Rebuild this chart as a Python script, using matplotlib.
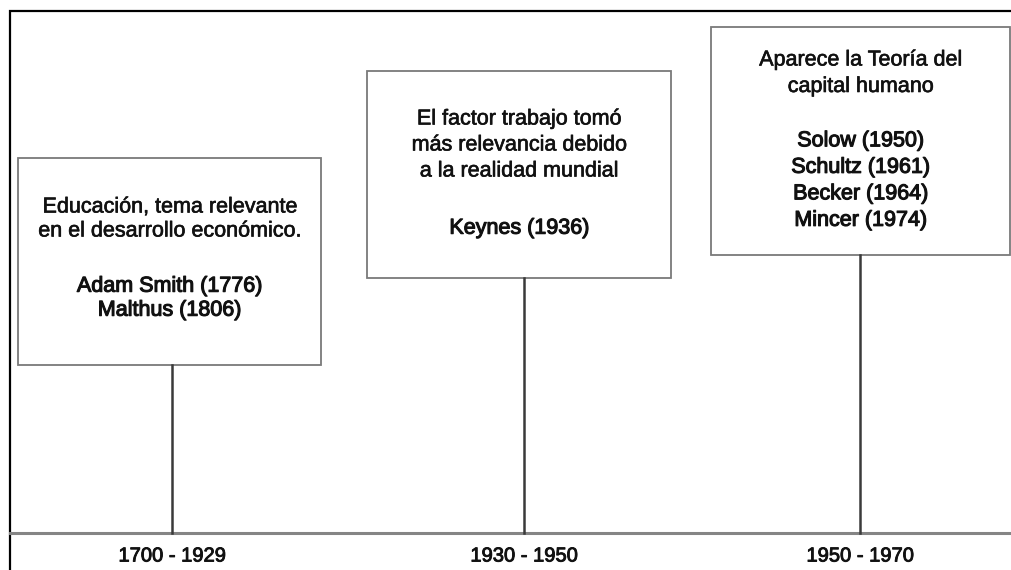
import matplotlib.pyplot as plt
from matplotlib.patches import Rectangle
import matplotlib.patheffects as pe

# timeline content
periods = ['1700 - 1929', '1930 - 1950', '1950 - 1970']
descriptions = [
    ['Educación, tema relevante', 'en el desarrollo económico.'],
    ['El factor trabajo tomó', 'más relevancia debido', 'a la realidad mundial'],
    ['Aparece la Teoría del', 'capital humano'],
]
authors = [
    ['Adam Smith (1776)', 'Malthus (1806)'],
    ['Keynes (1936)'],
    ['Solow (1950)', 'Schultz (1961)', 'Becker (1964)', 'Mincer (1974)'],
]

# layout in pixels (x0, y0, x1, y1), y down
boxes = [(18, 158, 321, 365), (367, 71, 671, 278), (711, 27, 1010, 255)]
stems = [172, 524, 860]
text_top = [207, 119, 60]
line_gap = [24, 26, 26.5]
name_skip = [1.3, 1.2, 1.05]
base_y = 533

W, H = 1011, 570
fig = plt.figure(figsize=(W / 100, H / 100), dpi=100)
ax = fig.add_axes([0, 0, 1, 1])
ax.set_xlim(0, W)
ax.set_ylim(H, 0)
ax.axis('off')

font = ['Liberation Sans', 'DejaVu Sans']
thin = [pe.withStroke(linewidth=0.45, foreground='#111111')]
thick = [pe.withStroke(linewidth=0.8, foreground='#111111')]
mid = [pe.withStroke(linewidth=0.65, foreground='#111111')]

# outer frame (left and top only)
ax.plot([9.5, 9.5, W], [H, 10.5, 10.5], color='black', lw=1.6, solid_joinstyle='miter')

# baseline
ax.plot([10, W], [base_y, base_y], color='#858585', lw=2.2)

for i in range(3):
    x0, y0, x1, y1 = boxes[i]
    ax.add_patch(Rectangle((x0, y0), x1 - x0, y1 - y0, facecolor='white',
                           edgecolor='#7a7a7a', lw=1.3))
    ax.plot([stems[i], stems[i]], [y1, base_y], color='#3a3a3a', lw=1.8)

    cx = (x0 + x1) / 2
    y = text_top[i]
    for line in descriptions[i]:
        ax.text(cx, y, line, ha='center', va='center', fontsize=15.5,
                family=font, color='#111111', path_effects=thin)
        y += line_gap[i]
    y += line_gap[i] * name_skip[i]
    for line in authors[i]:
        ax.text(cx, y, line, ha='center', va='center', fontsize=15.5,
                family=font, color='#111111', path_effects=thick)
        y += line_gap[i]

    ax.text(stems[i], 556, periods[i], ha='center', va='center', fontsize=14.5,
            family=font, color='#111111', path_effects=mid)

fig.savefig('out.png', dpi=100)
